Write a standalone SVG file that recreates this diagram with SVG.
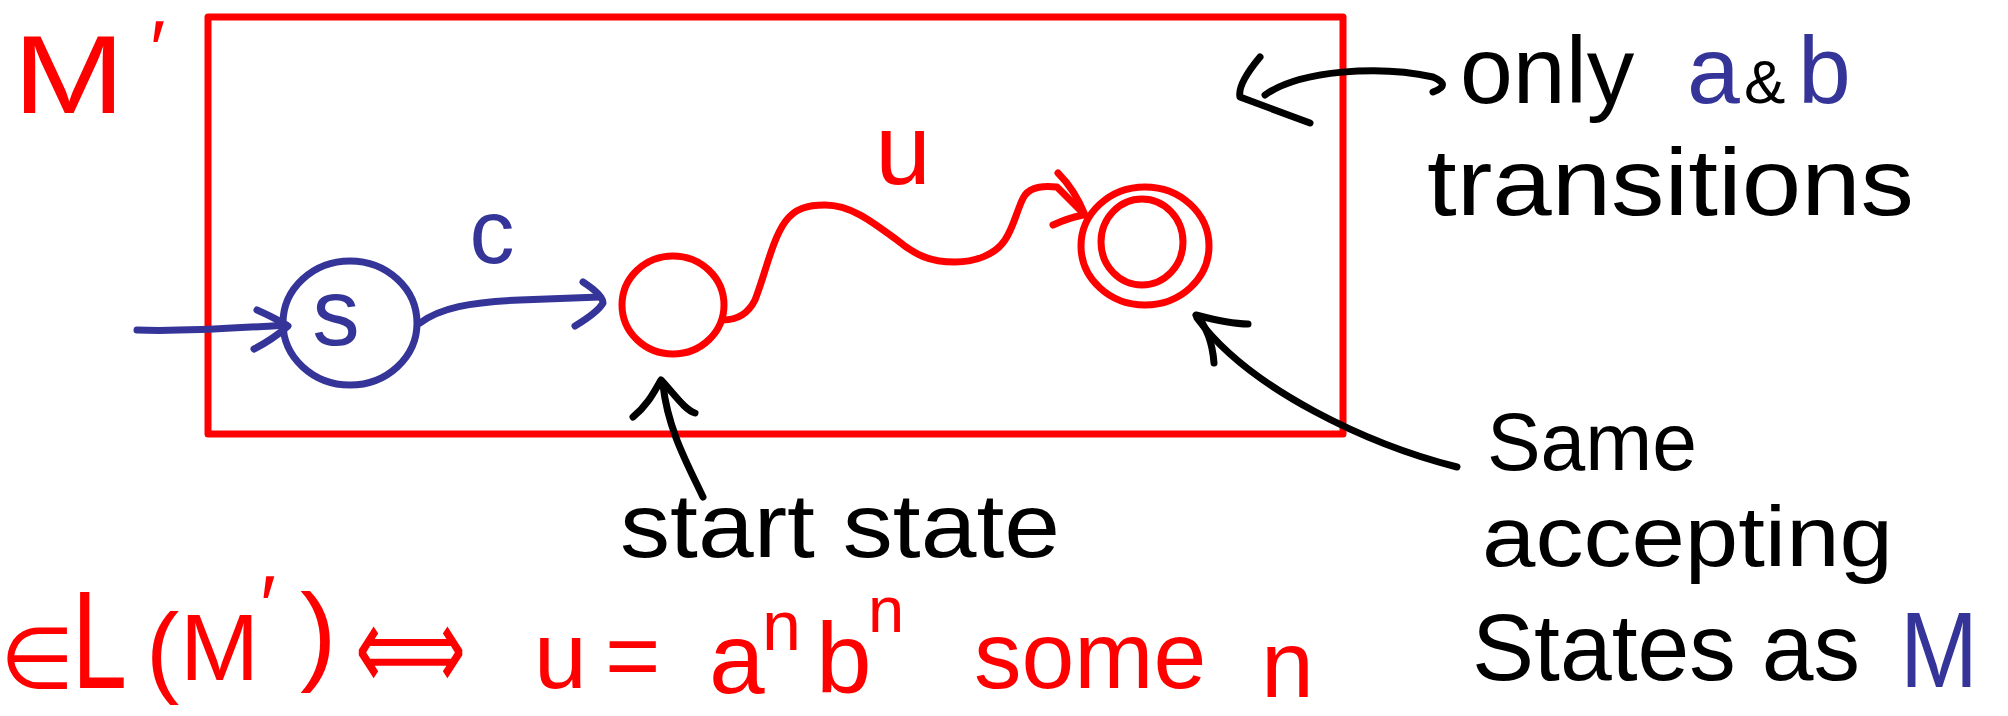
<svg xmlns="http://www.w3.org/2000/svg" width="2008" height="716" viewBox="0 0 2008 716">
<defs>
<style>
.ln{fill:none;stroke-width:7;stroke-linecap:round;stroke-linejoin:round}
.red{stroke:#ff0000}
.blue{stroke:#353599}
.blk{stroke:#000000}
.t{font-family:"Liberation Sans","DejaVu Sans",sans-serif}
.fr{fill:#ff0000}
.fb{fill:#353599}
.fk{fill:#000000}
</style>
</defs>
<rect width="2008" height="716" fill="#ffffff"/>

<g id="frame">
<rect x="208" y="17" width="1135" height="417" fill="none" stroke="#ff0000" stroke-width="7" stroke-linejoin="round"/>
</g>

<g id="label-M-prime">
<text class="t fr" font-size="112"><tspan x="13" y="113" textLength="112" lengthAdjust="spacingAndGlyphs">M</tspan><tspan x="150" y="78" font-size="82">′</tspan></text>
</g>

<g id="state-s">
<ellipse class="ln blue" cx="350" cy="323" rx="67" ry="62"/>
<text class="t fb" x="336" y="345" font-size="95" text-anchor="middle">s</text>
</g>

<g id="label-c">
<text class="t fb" x="492" y="263" font-size="90" text-anchor="middle">c</text>
</g>

<g id="state-start">
<ellipse class="ln red" cx="673" cy="305" rx="51" ry="49"/>
</g>

<g id="label-u">
<text class="t fr" x="903" y="184" font-size="100" text-anchor="middle">u</text>
</g>

<g id="state-accept">
<ellipse class="ln red" cx="1145" cy="246" rx="64" ry="59"/>
<ellipse class="ln red" cx="1142" cy="242" rx="41" ry="43"/>
</g>

<g id="connectors">
<path class="ln blue" d="M137,330 C180,332 240,328 286,325"/>
<path class="ln blue" d="M257,310 Q275,318 288,326 Q272,340 254,349"/>
<path class="ln blue" d="M420,323 C440,308 470,302 520,300 L600,297"/>
<path class="ln blue" d="M583,282 Q603,295 603,303 Q598,312 575,326"/>
<path class="ln red" d="M723,320 Q745,320 755,300 C765,275 772,240 785,222 C795,208 808,205 825,205 C850,205 870,220 897,240 C915,255 930,262 955,262 C975,262 995,255 1005,240 C1015,225 1018,205 1025,195 C1032,186 1045,186 1057,187 L1083,213"/>
<path class="ln red" d="M1058,173 Q1075,190 1085,215"/>
<path class="ln red" d="M1053,225 Q1068,218 1083,215"/>
<path class="ln blk" d="M703,497 C688,465 668,430 663,385"/>
<path class="ln blk" d="M633,417 C648,405 655,390 661,380 C675,395 685,410 695,413"/>
<path class="ln blk" d="M1457,467 C1370,445 1250,390 1197,318"/>
<path class="ln blk" d="M1214,363 C1213,350 1210,330 1196,315 C1215,320 1232,324 1248,324"/>
<path class="ln blk" d="M1433,92 Q1452,85 1433,77 C1380,65 1300,70 1265,95"/>
<path class="ln blk" d="M1260,57 C1245,75 1238,88 1240,97 L1310,123"/>
</g>

<g id="note-transitions">
<text class="t fk" font-size="95"><tspan x="1460" y="103">only</tspan><tspan x="1687" class="fb">a</tspan><tspan x="1744" font-size="62">&amp;</tspan><tspan x="1798" class="fb">b</tspan></text>
<text class="t fk" x="1427" y="215" font-size="95" textLength="487" lengthAdjust="spacingAndGlyphs">transitions</text>
</g>

<g id="note-start">
<text class="t fk" x="620" y="557" font-size="90" textLength="440" lengthAdjust="spacingAndGlyphs">start state</text>
</g>

<g id="note-accepting">
<text class="t fk" x="1487" y="470" font-size="82" textLength="210" lengthAdjust="spacingAndGlyphs">Same</text>
<text class="t fk" x="1482" y="566" font-size="85" textLength="411" lengthAdjust="spacingAndGlyphs">accepting</text>
<text class="t fk" font-size="95"><tspan x="1472" y="680" textLength="388" lengthAdjust="spacingAndGlyphs">States as</tspan><tspan x="1900" y="687" font-size="107" class="fb" textLength="78" lengthAdjust="spacingAndGlyphs">M</tspan></text>
</g>

<g id="formula">
<text class="t fr" font-size="85" x="0" y="688">∈</text>
<text class="t fr" font-size="140" x="72" y="688" textLength="55" lengthAdjust="spacingAndGlyphs">L</text>
<text class="t fr" font-size="95"><tspan x="146" y="684" font-size="100">(</tspan><tspan x="180" y="680">M</tspan><tspan x="260" y="635" font-size="85">′</tspan><tspan x="300" y="670" font-size="110">)</tspan></text>
<text class="t fr" font-size="80" transform="translate(355,690) scale(1,1.5)" textLength="111" lengthAdjust="spacingAndGlyphs">⟺</text>
<text class="t fr" font-size="95"><tspan x="534" y="688">u</tspan><tspan x="605" y="688">=</tspan><tspan x="709" y="693" font-size="100">a</tspan><tspan x="762" y="650" font-size="70">n</tspan><tspan x="816" y="693" font-size="100">b</tspan><tspan x="868" y="632" font-size="65">n</tspan><tspan x="974" y="688">some</tspan><tspan x="1261" y="697">n</tspan></text>
</g>
</svg>
